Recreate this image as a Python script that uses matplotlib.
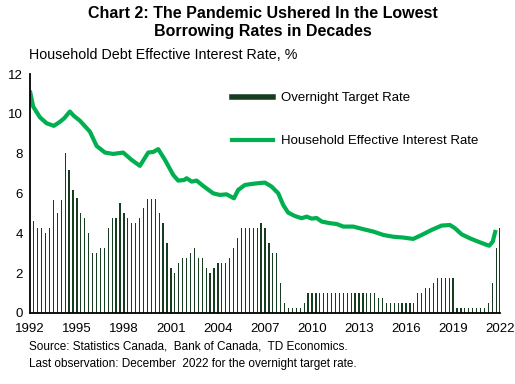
import matplotlib.pyplot as plt
from matplotlib.lines import Line2D

plt.rcParams['font.family'] = ['Liberation Sans', 'DejaVu Sans']

# Overnight target rate, quarterly (as drawn on the chart)
bar_start = 1992.25
overnight = [4.6, 4.25, 4.25, 4.0, 4.25, 5.7, 5.0, 5.7, 8.05, 7.2,
             6.2, 5.8, 5.0, 4.75, 4.0, 3.0, 3.0, 3.25, 3.25, 4.25,
             4.75, 4.75, 5.5, 5.0, 4.75, 4.5, 4.5, 4.75, 5.25, 5.75,
             5.75, 5.75, 5.0, 4.5, 3.5, 2.25, 2.0, 2.5, 2.75, 2.75,
             3.0, 3.25, 2.75, 2.75, 2.25, 2.0, 2.25, 2.5, 2.5, 2.5,
             2.75, 3.25, 3.75, 4.25, 4.25, 4.25, 4.25, 4.25, 4.5, 4.25,
             3.5, 3.0, 3.0, 1.5, 0.5, 0.25, 0.25, 0.25, 0.25, 0.5,
             1.0, 1.0, 1.0, 1.0, 1.0, 1.0, 1.0, 1.0, 1.0, 1.0,
             1.0, 1.0, 1.0, 1.0, 1.0, 1.0, 1.0, 1.0, 0.75, 0.75,
             0.5, 0.5, 0.5, 0.5, 0.5, 0.5, 0.5, 0.5, 1.0, 1.0,
             1.25, 1.25, 1.5, 1.75, 1.75, 1.75, 1.75, 1.75, 0.25, 0.25,
             0.25, 0.25, 0.25, 0.25, 0.25, 0.25, 0.5, 1.5, 3.25, 4.25]
bar_x = [bar_start + 0.25 * i for i in range(len(overnight))]

# Household effective interest rate
hh_year = [1992.0, 1992.21, 1992.64, 1993.07, 1993.53, 1993.91, 1994.19, 1994.55,
           1994.81, 1995.19, 1995.83, 1996.26, 1996.79, 1997.32, 1997.95, 1998.49,
           1999.02, 1999.55, 1999.87, 2000.19, 2000.62, 2001.15, 2001.46, 2001.85,
           2002.0, 2002.32, 2002.64, 2003.06, 2003.7, 2004.12, 2004.55, 2005.02,
           2005.29, 2005.72, 2006.15, 2006.57, 2007.0, 2007.42, 2007.85, 2008.16,
           2008.48, 2008.91, 2009.34, 2009.66, 2009.98, 2010.3, 2010.62, 2011.15,
           2011.57, 2012.0, 2012.63, 2013.27, 2013.91, 2014.55, 2015.18, 2015.82,
           2016.46, 2017.0, 2017.63, 2018.27, 2018.8, 2019.12, 2019.55, 2020.08,
           2020.61, 2021.15, 2021.31, 2021.53, 2021.72]
hh_rate = [11.17, 10.37, 9.83, 9.53, 9.40, 9.60, 9.78, 10.12,
           9.90, 9.66, 9.11, 8.39, 8.06, 7.99, 8.06, 7.69,
           7.39, 8.06, 8.09, 8.23, 7.69, 6.93, 6.65, 6.68,
           6.77, 6.60, 6.65, 6.38, 6.01, 5.93, 5.96, 5.76,
           6.18, 6.43, 6.48, 6.52, 6.55, 6.35, 6.01, 5.43,
           5.04, 4.87, 4.76, 4.84, 4.74, 4.77, 4.59, 4.51,
           4.47, 4.34, 4.34, 4.21, 4.09, 3.92, 3.83, 3.79,
           3.72, 3.92, 4.17, 4.39, 4.42, 4.26, 3.95, 3.75,
           3.58, 3.42, 3.38, 3.58, 4.17]

x_ticks = list(range(1992, 2023, 3))
y_ticks = list(range(0, 13, 2))

bar_color = "#173d21"
line_color = "#00b050"

fig = plt.figure(figsize=(5.15, 3.84), dpi=100)
ax = fig.add_axes([0.058, 0.185, 0.913, 0.622])

ax.bar(bar_x, overnight, width=0.08, color=bar_color, linewidth=0)
ax.plot(hh_year, hh_rate, color=line_color, linewidth=3, solid_capstyle="butt")

ax.set_xlim(1992, 2022)
ax.set_ylim(0, 12)
ax.set_xticks(x_ticks)
ax.set_yticks(y_ticks)
ax.tick_params(length=0, labelsize=9.5)
ax.tick_params(axis="x", pad=7)
ax.tick_params(axis="y", pad=5)
for s in ["top", "right"]:
    ax.spines[s].set_visible(False)
for s in ["left", "bottom"]:
    ax.spines[s].set_linewidth(1.3)

handles = [Line2D([], [], color=bar_color, lw=4),
           Line2D([], [], color=line_color, lw=3)]
ax.legend(handles, ["Overnight Target Rate", "Household Effective Interest Rate"],
          loc="upper left", bbox_to_anchor=(0.405, 0.975), frameon=False,
          fontsize=9.5, handlelength=3.1, handletextpad=0.6, labelspacing=2.35)

fig.text(0.51, 0.985, "Chart 2: The Pandemic Ushered In the Lowest\nBorrowing Rates in Decades",
         ha="center", va="top", fontsize=11.5, fontweight="bold", linespacing=1.25)
fig.text(0.056, 0.858, "Household Debt Effective Interest Rate, %", fontsize=10.3, va="center")
fig.text(0.056, 0.075, "Source: Statistics Canada,  Bank of Canada,  TD Economics.\n"
         "Last observation: December  2022 for the overnight target rate.",
         fontsize=8.5, va="center", linespacing=1.6)

fig.savefig("out.png", dpi=100)
